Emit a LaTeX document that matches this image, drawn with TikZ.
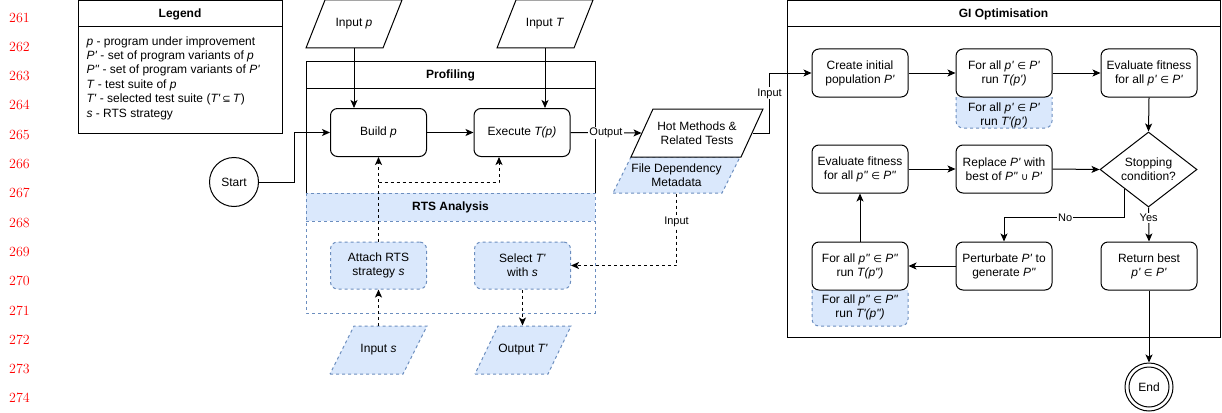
\documentclass[tikz,border=0pt]{standalone}
\usepackage{fontspec}
\setsansfont{Liberation Sans}[Ligatures=TeXOff]
\newfontfamily\symfont{DejaVu Sans}
\usetikzlibrary{arrows.meta,shapes.geometric}
\definecolor{rtsfill}{HTML}{DAE8FC}
\definecolor{rtsline}{HTML}{6C8EBF}
\definecolor{lnred}{HTML}{FF0000}
\newcommand\sy[1]{{\symfont\fontsize{10}{12}\selectfont#1}}
\newcommand\vi[1]{\textit{#1}}
% slanted data box: name, cx, cy, width, height, skew, style, text
\newcommand\iobox[8]{%
  \draw[#7] ({#2-#4/2},{#3+#5/2}) -- ({#2+#4/2-#6},{#3+#5/2}) -- ({#2+#4/2},{#3-#5/2}) -- ({#2-#4/2+#6},{#3-#5/2}) -- cycle;
  \node[iotext, minimum width={(#4-#6)*1pt}, minimum height={#5*1pt}] (#1) at (#2,#3) {#8};}
% dashed extension box hanging under a step: name, cx, top, bottom, text y, text
\newcommand\subbox[6]{%
  \draw[subline, rounded corners=7pt] ({#2-48},#3) -- ({#2-48},#4) -- ({#2+48},#4) -- ({#2+48},#3);
  \node[iotext] (#1) at (#2,#5) {#6};}
\begin{document}
\begin{tikzpicture}[x=1pt,y=-1pt,line width=1pt,
  font=\sffamily\fontsize{12}{14}\selectfont,
  >={Stealth[length=8pt,width=7pt,inset=2pt]},
  dsh/.style={dash pattern=on 3pt off 3pt},
  proc/.style={draw, fill=white, rounded corners=7pt, minimum width=96pt, minimum height=48pt, inner sep=0pt, align=center},
  rtsproc/.style={proc, draw=rtsline, fill=rtsfill, dsh},
  iotext/.style={inner sep=0pt, align=center},
  subline/.style={draw=rtsline, fill=rtsfill, dsh},
  title/.style={font=\sffamily\bfseries\fontsize{12}{14}\selectfont, inner sep=0pt},
  lbl/.style={fill=white, inner sep=1pt, font=\sffamily\fontsize{11}{13}\selectfont},
  lineno/.style={font=\rmfamily\fontsize{14}{16}\selectfont, text=lnred, inner sep=0pt},
  flow/.style={->},
  dflow/.style={->, dsh}]
\useasboundingbox (0,0) rectangle (1222,412);

% line numbers
\foreach \n [count=\k from 0] in {261,...,274}
  \node[lineno] (ln\n) at (19.5,{17.5+29.3*\k}) {\n};

% legend
\draw (78,1) rectangle (282,133) (78,27) -- (282,27);
\node[title] (legendT) at (180,14) {Legend};
\node[anchor=west, align=left, inner sep=0pt, font=\sffamily\fontsize{12}{14.4}\selectfont] (legendtxt) at (86,78)
  {\vi{p} - program under improvement\\
   \vi{P'} - set of program variants of \vi{p}\\
   \vi{P"} - set of program variants of \vi{P'}\\
   \vi{T} - test suite of \vi{p}\\
   \vi{T'} - selected test suite (\vi{T'}\,\sy{⊆}\,\vi{T})\\
   \vi{s} - RTS strategy};

% profiling container
\draw (306,193) -- (306,61) -- (595,61) -- (595,193) (306,88) -- (595,88);
\node[title] (profT) at (450.5,75) {Profiling};

% RTS analysis container
\fill[rtsfill] (306,193) rectangle (595,221);
\draw[rtsline, dsh] (306,193) rectangle (595,313) (306,221) -- (595,221);
\node[title] (rtsT) at (450.5,207) {RTS Analysis};

% GI container
\draw (787,1) rectangle (1220,337) (787,27) -- (1220,27);
\node[title] (giT) at (1003.5,14) {GI Optimisation};

% inputs and outputs
\iobox{inp}{354}{24}{96}{48}{19}{draw, fill=white}{Input \vi{p}}
\iobox{inT}{545}{24}{96}{48}{19}{draw, fill=white}{Input \vi{T}}
\iobox{fdm}{676.5}{175}{127}{36}{18}{subline}{File Dependency\\Metadata}
\iobox{hot}{697}{133}{132}{48}{22}{draw, fill=white}{Hot Methods \&\\Related Tests}
\iobox{ins}{378.5}{350}{97}{48}{24}{subline}{Input \vi{s}}
\iobox{outT}{523}{350}{96}{48}{23}{subline}{Output \vi{T'}}

% profiling steps
\node[circle, draw, minimum size=49pt, inner sep=0pt] (start) at (234,182) {Start};
\node[proc] (build) at (378.5,132.5) {Build \vi{p}};
\node[proc] (exec) at (522,132.5) {Execute \vi{T(p)}};
\node[rtsproc, minimum height=47pt] (attach) at (378.5,265.5) {Attach RTS\\strategy \vi{s}};
\node[rtsproc, minimum height=47pt] (select) at (522.5,265.5) {Select \vi{T'}\\with \vi{s}};

% GI steps
\subbox{fa1t}{1004}{97}{128}{115}{For all \vi{p'} \sy{∈} \vi{P'}\\run \vi{T'(p')}}
\subbox{fa2t}{860}{290}{326}{307}{For all \vi{p"} \sy{∈} \vi{P"}\\run \vi{T'(p")}}
\node[proc] (create) at (860,73) {Create initial\\population \vi{P'}};
\node[proc] (fa1) at (1004,73) {For all \vi{p'} \sy{∈} \vi{P'}\\run \vi{T(p')}};
\node[proc] (ev1) at (1149,73) {Evaluate fitness\\for all \vi{p'} \sy{∈} \vi{P'}};
\node[draw, fill=white, diamond, aspect=1.3, minimum width=97pt, minimum height=75pt, inner sep=0pt, align=center] (stop) at (1148.5,169.5) {Stopping\\condition?};
\node[proc] (ev2) at (860,169) {Evaluate fitness\\for all \vi{p"} \sy{∈} \vi{P"}};
\node[proc] (repl) at (1004,169) {Replace \vi{P'} with\\best of \vi{P"} \sy{∪} \vi{P'}};
\node[proc] (pert) at (1004,266) {Perturbate \vi{P'} to\\generate \vi{P"}};
\node[proc] (fa2) at (860,266) {For all \vi{p"} \sy{∈} \vi{P"}\\run \vi{T(p")}};
\node[proc] (ret) at (1149,266) {Return best\\\vi{p'} \sy{∈} \vi{P'}};
\node[circle, draw, minimum size=48pt, inner sep=0pt] (end) at (1149,387) {End};
\draw (end.center) circle[radius=20pt];

% profiling connectors
\draw[flow] (inp.south) -- (inp.south |- build.north);
\draw[flow] (inT.south) -- (inT.south |- exec.north);
\draw[flow] (start.east) -- ++(35,0) |- (build.west);
\draw[flow] (build.east) -- (exec.west);
\draw[flow] (exec.east) -- node[lbl]{Output} (hot.west);
\draw[flow] (hot.east) -- ++(17,0) |- node[lbl, pos=0.33]{Input} (create.west);
\draw[dflow] (fdm.south) |- node[lbl, pos=0.2]{Input} (select.east);
\coordinate (tap) at (attach.north |- 0,182);
\draw[dflow] (attach.north) -- (build.south);
\draw[dflow] (tap) -| ([xshift=-23pt]exec.south);
\draw[dflow] (ins.north) -- (attach.south);
\draw[dflow] (select.south) -- (select.south |- outT.north);

% GI connectors
\draw[flow] (create.east) -- (fa1.west);
\draw[flow] (fa1.east) -- (ev1.west);
\draw[flow] (ev1.south) -- (stop.north);
\draw[flow] (ev2.east) -- (repl.west);
\draw[flow] (repl.east) -- (stop.west);
\draw[flow] (stop.south west) -- ++(0,29) -| node[lbl, pos=0.245]{No} (pert.north);
\draw[flow] (stop.south) -- node[lbl, pos=0.31]{Yes} (ret.north);
\draw[flow] (pert.west) -- (fa2.east);
\draw[flow] (fa2.north) -- (ev2.south);
\draw[flow] (ret.south) -- (end.north);
\end{tikzpicture}
\end{document}
